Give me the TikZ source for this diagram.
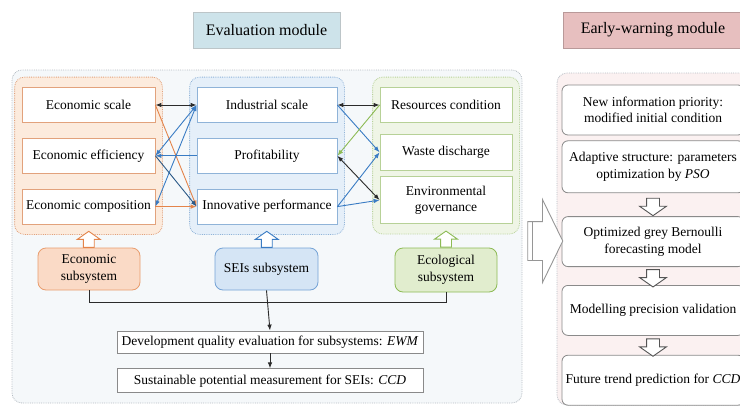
\documentclass[tikz,border=0pt]{standalone}
\usepackage{fontspec}
\setmainfont{Liberation Serif}
\usepackage{tikz}
\usetikzlibrary{arrows.meta,positioning,shapes.arrows,fit,backgrounds,calc}
\usepackage{xcolor}
\definecolor{ink}{HTML}{2B2B2B}
\definecolor{frame}{HTML}{8A8A8A}
\definecolor{econline}{HTML}{E2A27C}
\definecolor{econfill}{HTML}{FCEBDD}
\definecolor{econsubfill}{HTML}{FADAC6}
\definecolor{econarrow}{HTML}{E4844A}
\definecolor{seiline}{HTML}{8FB3D8}
\definecolor{seifill}{HTML}{E5EFF9}
\definecolor{seisubfill}{HTML}{D5E5F5}
\definecolor{seiarrow}{HTML}{3A7CC4}
\definecolor{seinavy}{HTML}{2C5A88}
\definecolor{ecoline}{HTML}{B7D197}
\definecolor{ecofill}{HTML}{EFF5E6}
\definecolor{ecosubfill}{HTML}{E1EDCE}
\definecolor{ecoarrow}{HTML}{8DBB55}
\definecolor{evalpaper}{HTML}{F5F8FA}
\definecolor{ewpaper}{HTML}{FBF1F1}
\definecolor{dots}{HTML}{B4BBC2}
\definecolor{evalhead}{HTML}{CDE3EA}
\definecolor{ewhead}{HTML}{E7BFBF}
\tikzset{
  base/.style={font=\fontsize{13.5}{16.5}\selectfont,align=center,draw=frame,fill=white,inner sep=2pt,line width=0.8pt},
  econbox/.style={base,draw=econline,minimum width=133pt,minimum height=35pt},
  seibox/.style={base,draw=seiline,minimum width=140pt,minimum height=35pt},
  ecobox/.style={base,draw=ecoline,minimum width=132pt,minimum height=35pt},
  subsys/.style={base,rounded corners=8pt,minimum width=102pt,minimum height=42pt},
  evalbox/.style={base,minimum width=306pt,minimum height=22pt},
  ewbox/.style={base,rounded corners=6pt,minimum width=182pt,minimum height=50pt},
  headbox/.style={base,font=\fontsize{16}{19}\selectfont,minimum height=36pt},
  group/.style={rounded corners=10pt,densely dotted,line width=0.8pt,inner xsep=7pt,inner ysep=10pt},
  module/.style={rounded corners=10pt,densely dotted,line width=0.8pt,draw=dots,inner sep=0pt},
  hollow/.style={shape=single arrow,draw=frame,fill=white,line width=0.9pt,single arrow head extend=6pt,
    single arrow tip angle=110,inner sep=5pt,minimum width=22pt,minimum height=16pt},
  uparrow/.style={hollow,shape border rotate=90},
  downarrow/.style={hollow,draw=ink!80,shape border rotate=270,inner sep=6pt,minimum width=26pt,single arrow head extend=7pt},
  link/.style={-{Latex[length=6pt,width=4.5pt]},line width=0.9pt,draw=ink},
  twoway/.style={link,{Latex[length=6pt,width=4.5pt]}-{Latex[length=6pt,width=4.5pt]}},
  econlink/.style={link,draw=econarrow},
  seilink/.style={link,draw=seiarrow},
  ecolink/.style={link,draw=ecoarrow}
}

\begin{document}
\begin{tikzpicture}[x=1pt,y=-1pt]
\useasboundingbox (0,0) rectangle (740,407);

% titles
\node[headbox,fill=evalhead,draw=evalhead!70!black!60,minimum width=147pt] (evaltitle) at (266.5,30) {Evaluation module};
\node[headbox,fill=ewhead,draw=ewhead!80!black,minimum width=180pt] (ewtitle) at (653,30) {Early-warning module};

% indicator columns
\node[econbox] (escale) at (88.5,105) {Economic scale};
\node[econbox,below=15pt of escale] (eeff) {Economic efficiency};
\node[econbox,below=15pt of eeff] (ecomp) {Economic composition};

\node[seibox] (iscale) at (267,105) {Industrial scale};
\node[seibox,below=15pt of iscale] (profit) {Profitability};
\node[seibox,below=15pt of profit] (innov) {Innovative performance};

\node[ecobox] (resource) at (446,105) {Resources condition};
\node[ecobox,below=11pt of resource,minimum height=36pt] (waste) {Waste discharge};
\node[ecobox,below=5.5pt of waste,minimum height=47pt] (envgov) {Environmental\\governance};

% subsystems
\node[subsys,fill=econsubfill,draw=econarrow!80] (econsub) at (89,269) {Economic\\subsystem};
\node[subsys,fill=seisubfill,draw=seiarrow!70,minimum width=103pt] (seisub) at (266.5,269) {SEIs subsystem};
\node[subsys,fill=ecosubfill,draw=ecoarrow,minimum height=44pt] (ecosub) at (446,270) {Ecological\\subsystem};

\node[evalbox] (devq) at (270,342) {Development quality evaluation for subsystems: \textit{EWM}};
\node[evalbox,below=15pt of devq,minimum height=24pt] (sust) {Sustainable potential measurement for SEIs: \textit{CCD}};

% early-warning steps
\node[ewbox] (newinfo) at (653,110) {New information priority:\\modified initial condition};
\node[ewbox,below=5pt of newinfo,minimum height=52pt] (adapt) {Adaptive structure: parameters\\optimization by \textit{PSO}};
\node[ewbox,below=23pt of adapt] (gbm) {Optimized grey Bernoulli\\forecasting model};
\node[ewbox,below=18pt of gbm] (valid) {Modelling precision validation};
\node[ewbox,below=19pt of valid] (future) {Future trend prediction for \textit{CCD}};

\begin{scope}[on background layer]
\node[module,fill=evalpaper,fit={(12,70) (522,403)}] (evalmod) {};
\node[module,fill=ewpaper,fit={(557,73) (760,405)}] (ewmod) {};
\node[group,fill=econfill,draw=econline,fit=(escale) (ecomp)] (econgrp) {};
\node[group,fill=seifill,draw=seiline,fit=(iscale) (innov)] (seigrp) {};
\node[group,fill=ecofill,draw=ecoline,fit=(resource) (envgov)] (ecogrp) {};
\end{scope}

% hollow arrows
\node[uparrow,draw=econarrow] (econup) at ($(econgrp.south)!.5!(econsub.north)$) {};
\node[uparrow,draw=seiarrow] (seiup) at ($(seigrp.south)!.5!(seisub.north)$) {};
\node[uparrow,draw=ecoarrow] (ecoup) at ($(ecogrp.south)!.5!(ecosub.north)$) {};
\node[downarrow] (down1) at ($(adapt.south)!.5!(gbm.north)$) {};
\node[downarrow] (down2) at ($(gbm.south)!.5!(valid.north)$) {};
\node[downarrow] (down3) at ($(valid.south)!.5!(future.north)$) {};
\node[hollow,draw=frame!90,minimum height=35pt,minimum width=82pt,inner xsep=0pt,inner ysep=19pt,
  single arrow head extend=22pt,single arrow tip angle=128] (toew) at (540.5,241) {};
\draw[frame!90,line width=0.9pt] ([xshift=5pt]toew.before tail) -- ([xshift=5pt]toew.after tail);

% links between indicators
\draw[twoway] (escale.east) -- (iscale.west);
\draw[econlink] (escale.east) -- (innov.west);
\draw[econlink] (ecomp.east) -- (innov.west);
\draw[seilink,twoway,draw=seiarrow] (iscale.west) -- (eeff.east);
\draw[seilink,twoway,draw=seiarrow] (iscale.west) -- (ecomp.east);
\draw[seilink] (profit.west) -- (eeff.east);
\draw[link,draw=seinavy] (eeff.east) -- (innov.west);

\draw[twoway] (iscale.east) -- (resource.west);
\draw[seilink] (iscale.east) -- (waste.west);
\draw[ecolink] (resource.west) -- (profit.east);
\draw[twoway] (profit.east) -- (envgov.west);
\draw[seilink] (innov.east) -- (waste.west);
\draw[seilink] (innov.east) -- (envgov.west);

% evaluation flow
\draw[line width=0.9pt,draw=ink] (econsub.south) -- ++(0,12) -| (ecosub.south);
\draw[link] (seisub.south) -- (devq.north);
\draw[link] (devq) -- (sust);
\end{tikzpicture}
\end{document}
